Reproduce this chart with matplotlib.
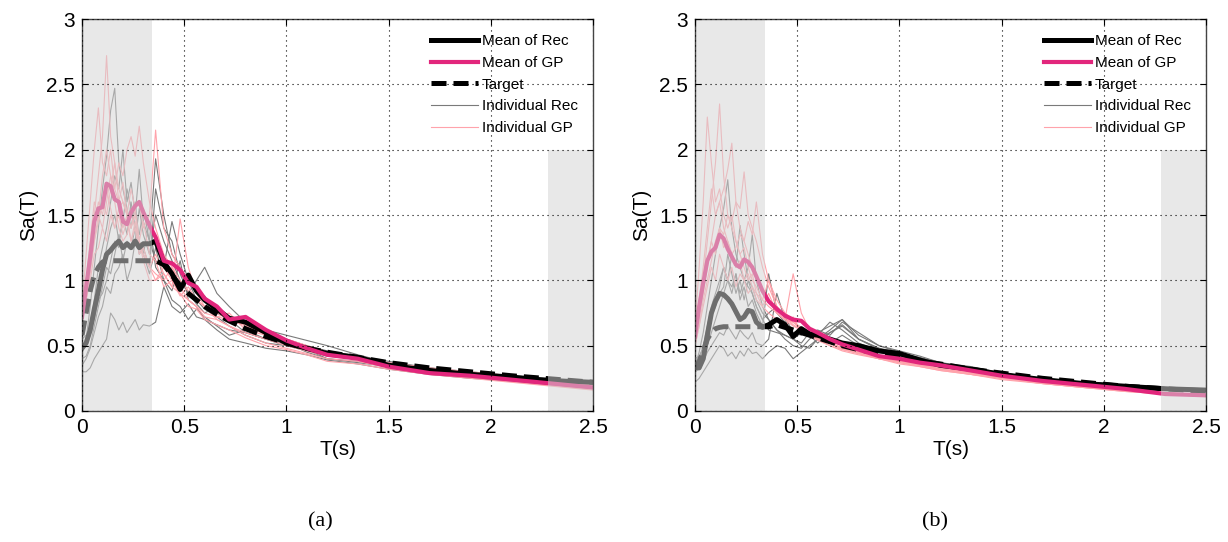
import matplotlib
matplotlib.use("Agg")
import matplotlib.pyplot as plt
from matplotlib.patches import Rectangle

# periodes communes (s)
T = [0.00, 0.02, 0.04, 0.06, 0.08, 0.10, 0.12, 0.14, 0.16, 0.18, 0.20, 0.22, 0.24,
     0.26, 0.28, 0.30, 0.33, 0.36, 0.40, 0.44, 0.48, 0.52, 0.56, 0.60, 0.66, 0.72,
     0.80, 0.90, 1.00, 1.10, 1.20, 1.35, 1.50, 1.70, 1.90, 2.10, 2.30, 2.50]

# ---- (a) ----
MEAN_REC_A = [0.48, 0.52, 0.62, 0.78, 0.92, 1.08, 1.20, 1.23, 1.27, 1.30, 1.25, 1.28, 1.25,
              1.30, 1.25, 1.28, 1.28, 1.30, 1.14, 1.05, 0.93, 1.04, 0.92, 0.85, 0.78, 0.71,
              0.68, 0.60, 0.52, 0.48, 0.44, 0.41, 0.35, 0.31, 0.28, 0.26, 0.23, 0.22]
MEAN_GP_A = [0.72, 0.95, 1.18, 1.45, 1.55, 1.56, 1.74, 1.72, 1.62, 1.60, 1.45, 1.43, 1.52,
             1.57, 1.60, 1.52, 1.42, 1.33, 1.15, 1.13, 1.08, 0.98, 0.95, 0.86, 0.80, 0.70,
             0.72, 0.62, 0.54, 0.48, 0.43, 0.40, 0.34, 0.29, 0.27, 0.24, 0.21, 0.18]
TARGET_A = [0.58, 0.75, 0.92, 1.04, 1.10, 1.14, 1.15, 1.15, 1.15, 1.15, 1.15, 1.15, 1.15,
            1.15, 1.15, 1.15, 1.15, 1.15, 1.12, 1.04, 0.96, 0.90, 0.85, 0.80, 0.74, 0.69,
            0.63, 0.57, 0.52, 0.48, 0.45, 0.41, 0.37, 0.33, 0.30, 0.27, 0.245, 0.22]
REC_A = [
    [0.45, 0.55, 0.80, 1.10, 1.40, 1.70, 1.95, 2.30, 2.47, 1.90, 1.70, 1.55, 1.40, 1.60, 1.30, 1.20, 1.05, 1.25, 1.00,
     0.85, 0.80, 0.70, 0.78, 0.72, 0.65, 0.58, 0.62, 0.55, 0.50, 0.47, 0.43, 0.42, 0.36, 0.32, 0.28, 0.25, 0.22, 0.20],
    [0.50, 0.52, 0.62, 0.85, 1.10, 1.25, 1.40, 1.60, 1.80, 1.70, 2.00, 1.60, 1.75, 1.50, 1.85, 1.45, 1.30, 1.93, 1.50,
     1.20, 1.10, 1.00, 0.90, 0.88, 0.75, 0.70, 0.60, 0.55, 0.50, 0.46, 0.42, 0.40, 0.36, 0.30, 0.27, 0.24, 0.21, 0.19],
    [0.30, 0.30, 0.33, 0.40, 0.45, 0.50, 0.55, 0.75, 0.70, 0.62, 0.68, 0.60, 0.65, 0.70, 0.62, 0.66, 0.65, 0.68, 0.95,
     0.80, 0.75, 0.82, 0.72, 0.70, 0.66, 0.62, 0.60, 0.55, 0.52, 0.45, 0.40, 0.38, 0.34, 0.29, 0.26, 0.23, 0.20, 0.18],
    [0.40, 0.42, 0.50, 0.65, 0.80, 0.95, 1.10, 1.05, 1.20, 1.35, 1.15, 1.30, 1.25, 1.40, 1.20, 1.25, 1.10, 1.70, 1.40,
     1.30, 1.05, 0.90, 1.00, 1.10, 0.90, 0.80, 0.68, 0.62, 0.58, 0.54, 0.50, 0.43, 0.37, 0.33, 0.30, 0.27, 0.25, 0.23],
    [0.55, 0.58, 0.62, 0.70, 0.85, 0.90, 1.00, 1.15, 1.30, 1.25, 1.50, 1.35, 1.60, 1.40, 1.35, 1.55, 1.30, 1.15, 1.10,
     1.45, 1.20, 1.00, 0.85, 0.78, 0.72, 0.65, 0.58, 0.52, 0.50, 0.47, 0.40, 0.37, 0.34, 0.30, 0.27, 0.25, 0.22, 0.20],
    [0.35, 0.40, 0.48, 0.60, 0.72, 0.80, 0.95, 0.90, 1.05, 1.10, 1.20, 1.00, 1.10, 1.30, 1.55, 1.35, 1.20, 1.50, 1.30,
     1.15, 1.00, 0.90, 0.82, 0.75, 0.80, 0.72, 0.66, 0.60, 0.55, 0.50, 0.46, 0.42, 0.38, 0.33, 0.29, 0.26, 0.24, 0.22],
    [0.48, 0.50, 0.58, 0.75, 0.95, 1.05, 1.25, 1.40, 1.50, 1.30, 1.45, 1.70, 1.55, 1.40, 1.30, 1.20, 1.45, 1.10, 1.00,
     0.92, 1.15, 0.85, 0.80, 0.70, 0.62, 0.55, 0.52, 0.48, 0.46, 0.43, 0.39, 0.36, 0.32, 0.28, 0.25, 0.23, 0.20, 0.17],
]
GP_A = [
    [0.65, 0.90, 1.20, 1.50, 1.80, 2.10, 2.72, 2.10, 1.90, 1.70, 1.60, 1.50, 1.40, 1.50, 1.30, 1.20, 1.10, 1.20, 1.05,
     0.95, 0.90, 0.85, 0.80, 0.72, 0.70, 0.65, 0.60, 0.55, 0.50, 0.46, 0.42, 0.40, 0.35, 0.31, 0.28, 0.25, 0.21, 0.18],
    [0.80, 1.20, 1.60, 2.00, 2.32, 1.90, 1.80, 2.00, 1.70, 1.60, 1.40, 1.50, 1.30, 1.45, 1.25, 1.20, 1.10, 1.05, 1.00,
     1.10, 0.95, 0.85, 0.80, 0.75, 0.72, 0.70, 0.65, 0.60, 0.55, 0.50, 0.45, 0.41, 0.36, 0.31, 0.28, 0.25, 0.22, 0.19],
    [0.70, 0.90, 1.10, 1.30, 1.50, 1.40, 1.60, 1.80, 1.70, 1.90, 1.80, 2.00, 2.10, 1.95, 2.18, 1.90, 1.60, 1.40, 1.20,
     1.10, 1.00, 0.92, 0.85, 0.80, 0.75, 0.70, 0.66, 0.58, 0.52, 0.48, 0.43, 0.41, 0.35, 0.30, 0.28, 0.26, 0.22, 0.19],
    [0.75, 0.85, 1.00, 1.20, 1.25, 1.40, 1.30, 1.50, 1.40, 1.55, 1.60, 1.50, 1.70, 1.55, 1.60, 1.40, 1.50, 2.15, 1.40,
     1.20, 1.10, 1.00, 0.95, 0.85, 0.78, 0.72, 0.68, 0.62, 0.55, 0.50, 0.45, 0.42, 0.37, 0.33, 0.30, 0.27, 0.23, 0.20],
    [0.70, 0.95, 1.20, 1.40, 1.60, 1.50, 1.70, 1.55, 1.40, 1.50, 1.35, 1.45, 1.30, 1.40, 1.20, 1.25, 1.10, 1.00, 1.05,
     0.95, 1.47, 1.10, 0.90, 0.80, 0.70, 0.65, 0.58, 0.52, 0.48, 0.44, 0.40, 0.38, 0.33, 0.29, 0.26, 0.23, 0.20, 0.17],
    [0.72, 1.00, 1.30, 1.60, 1.50, 1.80, 2.00, 1.80, 1.60, 1.40, 1.30, 1.35, 1.50, 1.40, 1.30, 1.15, 1.00, 1.00, 1.10,
     1.00, 0.88, 0.95, 0.85, 0.80, 0.72, 0.75, 0.62, 0.58, 0.53, 0.48, 0.44, 0.40, 0.35, 0.31, 0.27, 0.24, 0.21, 0.18],
    [0.68, 0.85, 1.05, 1.30, 1.45, 1.60, 1.50, 1.70, 1.90, 1.60, 1.75, 1.50, 1.40, 1.55, 1.30, 1.45, 1.20, 1.15, 0.95,
     1.00, 0.90, 0.80, 0.78, 0.70, 0.66, 0.62, 0.56, 0.50, 0.47, 0.43, 0.38, 0.36, 0.32, 0.28, 0.25, 0.22, 0.19, 0.16],
]

# ---- (b) ----
MEAN_REC_B = [0.34, 0.33, 0.40, 0.58, 0.75, 0.84, 0.90, 0.89, 0.86, 0.82, 0.76, 0.70, 0.72,
              0.77, 0.76, 0.68, 0.64, 0.66, 0.70, 0.66, 0.57, 0.63, 0.59, 0.58, 0.55, 0.52,
              0.50, 0.46, 0.44, 0.39, 0.35, 0.32, 0.28, 0.24, 0.21, 0.19, 0.17, 0.16]
MEAN_GP_B = [0.57, 0.80, 0.98, 1.15, 1.22, 1.25, 1.35, 1.32, 1.24, 1.18, 1.12, 1.10, 1.16,
             1.14, 1.10, 1.03, 0.92, 0.84, 0.78, 0.73, 0.70, 0.69, 0.63, 0.60, 0.55, 0.51,
             0.47, 0.42, 0.40, 0.37, 0.35, 0.31, 0.27, 0.23, 0.20, 0.17, 0.13, 0.12]
TARGET_B = [0.32, 0.38, 0.46, 0.55, 0.60, 0.63, 0.64, 0.645, 0.645, 0.645, 0.645, 0.645, 0.645,
            0.645, 0.645, 0.645, 0.645, 0.645, 0.66, 0.64, 0.62, 0.60, 0.58, 0.56, 0.53, 0.50,
            0.47, 0.44, 0.41, 0.38, 0.36, 0.32, 0.29, 0.25, 0.22, 0.19, 0.17, 0.15]
REC_B = [
    [0.35, 0.45, 0.60, 0.80, 1.00, 1.20, 1.40, 1.55, 1.77, 1.40, 1.20, 1.10, 1.00, 0.95, 0.90, 0.80, 0.70, 0.62, 0.60,
     0.58, 0.55, 0.60, 0.58, 0.55, 0.62, 0.70, 0.55, 0.48, 0.45, 0.40, 0.36, 0.33, 0.28, 0.24, 0.21, 0.19, 0.17, 0.16],
    [0.30, 0.35, 0.45, 0.60, 0.75, 0.85, 0.95, 1.10, 1.00, 1.20, 1.10, 1.42, 1.20, 1.00, 0.95, 0.85, 0.75, 0.70, 0.62,
     0.58, 0.55, 0.52, 0.60, 0.62, 0.58, 0.68, 0.60, 0.50, 0.46, 0.42, 0.37, 0.33, 0.29, 0.25, 0.22, 0.20, 0.18, 0.17],
    [0.33, 0.35, 0.40, 0.50, 0.60, 0.70, 0.80, 0.90, 1.00, 0.95, 1.05, 0.90, 1.00, 1.10, 1.35, 1.00, 0.80, 0.70, 0.62,
     0.55, 0.50, 0.48, 0.55, 0.60, 0.65, 0.70, 0.58, 0.50, 0.45, 0.40, 0.35, 0.32, 0.28, 0.24, 0.22, 0.20, 0.18, 0.17],
    [0.22, 0.25, 0.30, 0.35, 0.40, 0.45, 0.50, 0.48, 0.42, 0.45, 0.40, 0.46, 0.42, 0.48, 0.44, 0.45, 0.40, 0.45, 0.50,
     0.48, 0.40, 0.45, 0.50, 0.55, 0.60, 0.65, 0.55, 0.48, 0.42, 0.38, 0.34, 0.30, 0.27, 0.23, 0.20, 0.18, 0.16, 0.15],
    [0.35, 0.40, 0.50, 0.65, 0.80, 0.90, 1.00, 1.10, 1.00, 0.90, 1.05, 0.85, 0.95, 0.80, 0.85, 0.75, 0.65, 1.05, 0.75,
     0.68, 0.60, 0.62, 0.58, 0.52, 0.60, 0.66, 0.55, 0.47, 0.43, 0.40, 0.36, 0.33, 0.28, 0.25, 0.22, 0.20, 0.18, 0.16],
    [0.30, 0.32, 0.38, 0.45, 0.50, 0.55, 0.60, 0.58, 0.65, 0.60, 0.55, 0.62, 0.58, 0.55, 0.60, 0.52, 0.50, 0.55, 0.90,
     0.70, 0.55, 0.50, 0.48, 0.55, 0.52, 0.58, 0.50, 0.45, 0.42, 0.40, 0.36, 0.32, 0.28, 0.24, 0.21, 0.19, 0.17, 0.16],
    [0.40, 0.42, 0.48, 0.60, 0.72, 0.80, 0.90, 0.95, 1.20, 1.05, 0.90, 1.00, 0.85, 1.00, 0.90, 0.80, 0.70, 0.75, 0.80,
     0.72, 0.60, 0.58, 0.62, 0.58, 0.68, 0.62, 0.52, 0.46, 0.44, 0.41, 0.37, 0.34, 0.29, 0.25, 0.22, 0.20, 0.18, 0.17],
]
GP_B = [
    [0.60, 0.80, 1.00, 1.30, 1.60, 1.90, 2.35, 1.80, 1.50, 1.40, 1.30, 1.20, 1.25, 1.10, 1.00, 0.95, 0.85, 0.80, 0.75,
     0.70, 0.68, 0.62, 0.58, 0.55, 0.52, 0.48, 0.45, 0.40, 0.38, 0.35, 0.32, 0.29, 0.25, 0.21, 0.18, 0.16, 0.13, 0.12],
    [0.65, 1.10, 1.60, 2.25, 1.90, 1.60, 1.70, 1.50, 1.40, 1.50, 1.30, 1.20, 1.10, 1.00, 1.05, 0.90, 0.80, 0.75, 0.70,
     0.65, 0.72, 0.60, 0.58, 0.54, 0.50, 0.46, 0.43, 0.40, 0.37, 0.34, 0.31, 0.28, 0.24, 0.21, 0.18, 0.15, 0.13, 0.11],
    [0.55, 0.70, 0.90, 1.10, 1.30, 1.50, 1.60, 1.70, 1.85, 2.05, 1.60, 1.40, 1.30, 1.20, 1.10, 1.00, 0.90, 0.85, 0.75,
     0.70, 0.65, 0.62, 0.58, 0.55, 0.50, 0.47, 0.44, 0.40, 0.37, 0.35, 0.32, 0.28, 0.25, 0.22, 0.19, 0.16, 0.13, 0.12],
    [0.50, 0.65, 0.85, 1.00, 1.15, 1.30, 1.40, 1.35, 1.50, 1.45, 1.60, 1.55, 1.83, 1.50, 1.40, 1.30, 1.10, 0.95, 0.80,
     0.72, 0.68, 0.64, 0.60, 0.56, 0.52, 0.48, 0.44, 0.41, 0.38, 0.36, 0.33, 0.30, 0.26, 0.22, 0.19, 0.16, 0.14, 0.12],
    [0.58, 0.75, 0.95, 1.15, 1.30, 1.20, 1.40, 1.25, 1.30, 1.20, 1.25, 1.35, 1.30, 1.45, 1.35, 1.60, 1.20, 1.00, 0.85,
     0.75, 0.70, 0.62, 0.58, 0.55, 0.52, 0.48, 0.45, 0.40, 0.38, 0.35, 0.32, 0.29, 0.26, 0.22, 0.19, 0.16, 0.14, 0.12],
    [0.50, 0.65, 0.80, 0.95, 1.10, 1.00, 1.20, 1.10, 1.00, 1.10, 0.95, 1.05, 1.00, 0.90, 0.95, 0.85, 0.80, 0.90, 0.75,
     0.70, 1.05, 0.75, 0.62, 0.58, 0.53, 0.48, 0.45, 0.42, 0.39, 0.36, 0.33, 0.29, 0.26, 0.22, 0.19, 0.16, 0.14, 0.12],
    [0.62, 0.85, 1.10, 1.40, 1.70, 1.50, 1.60, 1.40, 1.30, 1.20, 1.10, 1.15, 1.00, 1.05, 0.95, 0.90, 0.85, 1.00, 0.80,
     0.72, 0.66, 0.62, 0.60, 0.56, 0.52, 0.47, 0.44, 0.40, 0.36, 0.34, 0.31, 0.28, 0.25, 0.21, 0.18, 0.15, 0.13, 0.11],
]

# bandes grisees (plage de periodes hors calage)
BAND_LOW = (0.0, 0.34)
BAND_HIGH = (2.28, 2.5)
BAND_HIGH_TOP = 2.0

C_MEAN_GP = "#e2267c"
C_IND_REC = "#7a7a7a"
C_IND_GP = "#ffa3ab"
SANS = ["Liberation Sans", "DejaVu Sans"]


def panel(ax, rec, gp, mean_rec, mean_gp, target):
    for i, r in enumerate(rec):
        ax.plot(T, r, color=C_IND_REC, lw=0.8, label="Individual Rec" if i == 0 else None)
    for i, g in enumerate(gp):
        ax.plot(T, g, color=C_IND_GP, lw=0.8, label="Individual GP" if i == 0 else None)
    ax.plot(T, mean_rec, color="black", lw=3.6, label="Mean of Rec")
    ax.plot(T, target, color="black", lw=3.6, ls=(0, (3.0, 1.4)), label="Target")
    ax.plot(T, mean_gp, color=C_MEAN_GP, lw=3.0, label="Mean of GP")

    # voile gris par-dessus les courbes
    ax.axvspan(*BAND_LOW, facecolor=(0.83, 0.83, 0.83), alpha=0.52, lw=0, zorder=2.3)
    ax.add_patch(Rectangle((BAND_HIGH[0], 0), BAND_HIGH[1] - BAND_HIGH[0], BAND_HIGH_TOP,
                           facecolor=(0.83, 0.83, 0.83), alpha=0.52, lw=0, zorder=2.3))

    ax.set_xlim(0, 2.5)
    ax.set_ylim(0, 3)
    ax.set_xticks([0, 0.5, 1, 1.5, 2, 2.5])
    ax.set_xticklabels(["0", "0.5", "1", "1.5", "2", "2.5"])
    ax.set_yticks([0, 0.5, 1, 1.5, 2, 2.5, 3])
    ax.set_yticklabels(["0", "0.5", "1", "1.5", "2", "2.5", "3"])
    ax.set_axisbelow(False)
    ax.grid(True, color="black", lw=0.8, ls=(0, (1, 3.5)))
    ax.tick_params(direction="in", top=True, right=True, length=4, width=0.8,
                   labelsize=15, pad=5)
    for lab in ax.get_xticklabels() + ax.get_yticklabels():
        lab.set_family(SANS)
    for s in ax.spines.values():
        s.set_color("#444444")
        s.set_linewidth(1.0)
    ax.set_xlabel("T(s)", fontsize=15, family=SANS, labelpad=2)
    ax.set_ylabel("Sa(T)", fontsize=15, family=SANS, labelpad=6)

    handles, labels = ax.get_legend_handles_labels()
    order = ["Mean of Rec", "Mean of GP", "Target", "Individual Rec", "Individual GP"]
    hmap = dict(zip(labels, handles))
    ax.legend([hmap[k] for k in order], order, loc="upper right", frameon=False,
              prop={"family": SANS, "size": 11}, handlelength=3.1, handletextpad=0.25,
              labelspacing=0.5, borderaxespad=0.7, borderpad=0.3)


fig = plt.figure(figsize=(12.28, 5.42), dpi=100)
ax_a = fig.add_axes([0.0668, 0.2417, 0.4161, 0.7232])
ax_b = fig.add_axes([0.5660, 0.2417, 0.4161, 0.7232])
panel(ax_a, REC_A, GP_A, MEAN_REC_A, MEAN_GP_A, TARGET_A)
panel(ax_b, REC_B, GP_B, MEAN_REC_B, MEAN_GP_B, TARGET_B)

fig.text(0.261, 0.037, "(a)", ha="center", va="center", fontsize=16,
         family=["Liberation Serif", "DejaVu Serif"])
fig.text(0.761, 0.037, "(b)", ha="center", va="center", fontsize=16,
         family=["Liberation Serif", "DejaVu Serif"])

fig.savefig("out.png", dpi=100)
